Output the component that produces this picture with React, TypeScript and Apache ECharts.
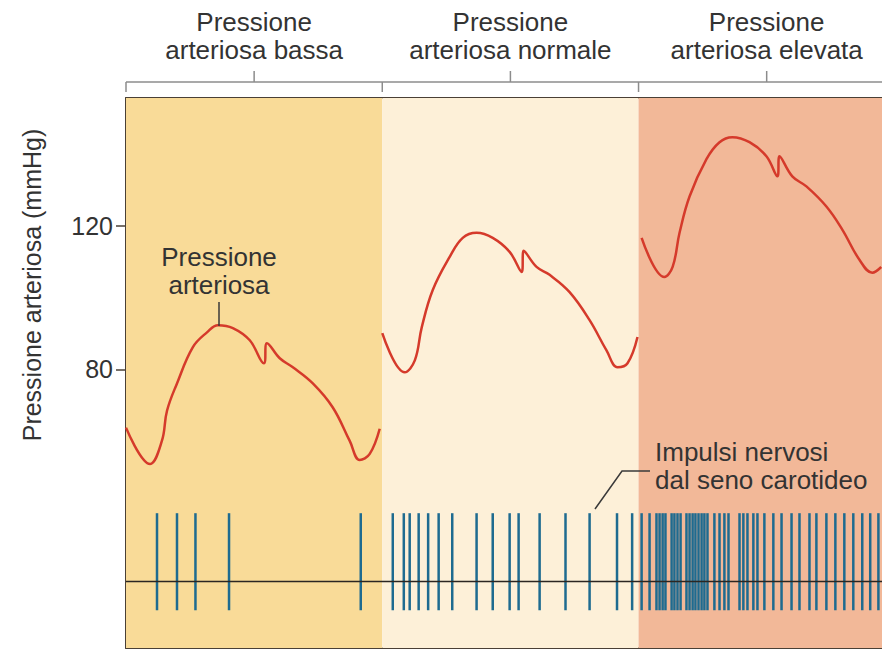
import React, { useEffect, useRef } from 'react';
import * as echarts from 'echarts';

// x: arbitrary time units (each phase = 100), y: mmHg
const PANEL_BOUNDS = [0, 100, 200, 295];
const PANEL_TITLES = [
  ['Pressione', 'arteriosa bassa'],
  ['Pressione', 'arteriosa normale'],
  ['Pressione', 'arteriosa elevata'],
];
const Y_TICKS = [80, 120];

const LOW_X = [0, 9.4, 14.0, 16.0, 19.9, 26.1, 31.6, 35.9, 41.7, 48.3, 53.8, 55.0, 60.0, 65.1, 72.9, 80.7, 87.3, 91.2, 95.1, 99.0];
const LOW_Y = [63.8, 53.7, 60.1, 68.5, 76.1, 86.2, 90.3, 92.3, 91.5, 88.1, 81.7, 87.3, 83.1, 80.6, 76.1, 69.4, 60.1, 54.8, 56.5, 63.5];

const NORMAL_X = [100, 108.8, 112.7, 115.4, 119.7, 126.3, 131.4, 136.8, 143.1, 149.7, 154.4, 155.2, 160.2, 165.3, 173.1, 180.9, 187.5, 191.8, 195.7, 199.6];
const NORMAL_Y = [90.1, 79.2, 82.5, 91.7, 102.1, 111.3, 116.6, 118.0, 116.6, 112.7, 107.1, 113.0, 108.5, 106.3, 101.5, 93.7, 85.3, 80.6, 81.7, 89.0];

const HIGH_X = [201.2, 210.1, 213.3, 216.0, 219.9, 226.5, 231.6, 236.6, 243.3, 249.9, 254.2, 255.0, 260.0, 265.5, 273.3, 279.5, 286.2, 291.2, 294.7];
const HIGH_Y = [116.6, 105.7, 108.5, 118.0, 128.1, 138.5, 143.2, 144.6, 143.2, 139.3, 133.7, 139.3, 133.7, 130.9, 125.3, 118.9, 110.5, 106.9, 108.5];

const SPIKES_LOW = [12.1, 19.9, 27.1, 40.2, 91.6];
const SPIKES_NORMAL = [104.1, 108.4, 110.7, 114.2, 117.9, 122.0, 127.3, 136.8, 143.1, 149.7, 153.2, 161.4, 171.5, 180.9, 191.6, 197.5];
const SPIKES_HIGH = [201.2, 204.3, 207.0, 208.2, 209.4, 210.5, 212.9, 214.0, 215.2, 216.4, 218.7, 219.9, 221.1, 222.2, 223.4, 224.6, 225.7, 226.9, 229.6, 231.6, 233.5, 235.1, 239.4, 240.9, 242.5, 244.8, 246.4, 249.1, 252.6, 255.8, 259.7, 262.8, 266.7, 269.4, 273.3, 276.8, 280.3, 283.8, 287.3, 290.4, 293.6];
const SPIKE_TOP = 40;
const SPIKE_BOTTOM = 13;
const BASELINE = 21;

const PANEL_COLORS = ['#f9db98', '#fdf0d8', '#f2b898'];
const FONT = '"Liberation Sans", Arial, Helvetica, sans-serif';
const TEXT = '#333333';
const CURVE = '#d53a2b';
const SPIKE = '#1e6b90';

const zip = (xs: number[], ys: number[]) => xs.map((x, i) => [x, ys[i]]);

export default function App() {
  const ref = useRef<HTMLDivElement>(null);
  useEffect(() => {
    if (!ref.current) return;
    const chart = echarts.init(ref.current, null, { renderer: 'svg' });
    const curveSeries = (data: number[][]) => ({
      type: 'line',
      data,
      smooth: 0.4,
      symbol: 'none',
      lineStyle: { color: CURVE, width: 2.5 },
      z: 5,
    });
    const spikes = [...SPIKES_LOW, ...SPIKES_NORMAL, ...SPIKES_HIGH].map((x) => [x]);
    chart.setOption({
      animation: false,
      grid: { left: 126, right: 0, top: 98, bottom: 2 },
      xAxis: [
        {
          type: 'value', min: 0, max: 295, position: 'bottom',
          axisLine: { show: true, onZero: false, lineStyle: { color: '#4a4036', width: 2 } },
          axisTick: { show: false }, axisLabel: { show: false }, splitLine: { show: false },
        },
        {
          type: 'value', min: 0, max: 295, position: 'top',
          axisLine: { show: true, onZero: false, lineStyle: { color: '#4a4036', width: 2 } },
          axisTick: { show: false }, axisLabel: { show: false }, splitLine: { show: false },
        },
      ],
      yAxis: {
        type: 'value', min: 2.5, max: 155.5,
        axisLine: { show: true, onZero: false, lineStyle: { color: '#4a4036', width: 2 } },
        axisTick: { show: true, length: 10, customValues: Y_TICKS, lineStyle: { color: '#4a4036', width: 1.5 } },
        axisLabel: { show: true, customValues: Y_TICKS, margin: 13, fontSize: 25, color: TEXT, fontFamily: FONT },
        splitLine: { show: false },
      },
      series: [
        {
          type: 'line', data: [], silent: true, z: 0,
          markArea: {
            silent: true,
            data: PANEL_BOUNDS.slice(0, 3).map((b, i) => [
              { xAxis: b, itemStyle: { color: PANEL_COLORS[i] } },
              { xAxis: PANEL_BOUNDS[i + 1] },
            ]),
          },
        },
        curveSeries(zip(LOW_X, LOW_Y)),
        curveSeries(zip(NORMAL_X, NORMAL_Y)),
        curveSeries(zip(HIGH_X, HIGH_Y)),
        {
          type: 'custom',
          data: spikes,
          z: 3,
          renderItem: (params: any, api: any) => {
            const x = api.value(0);
            const p1 = api.coord([x, SPIKE_TOP]);
            const p2 = api.coord([x, SPIKE_BOTTOM]);
            return {
              type: 'line',
              shape: { x1: p1[0], y1: p1[1], x2: p2[0], y2: p2[1] },
              style: { stroke: SPIKE, lineWidth: 2.5 },
            };
          },
        },
        {
          type: 'line',
          data: [[0, BASELINE], [295, BASELINE]],
          symbol: 'none',
          lineStyle: { color: '#2b2622', width: 1.5 },
          z: 4,
        },
      ],
    });

    const px = (x: number) => chart.convertToPixel({ gridIndex: 0 }, [x, 100])[0];
    const BR_Y = 82;
    const g: any[] = [];
    const brStyle = { stroke: '#8c8c8c', lineWidth: 1.5 };
    const txt = (text: string, x: number, y: number, size: number, align = 'center', rotation = 0) => ({
      type: 'text', x, y, rotation, z: 100,
      style: { text, fill: TEXT, font: `${size}px ${FONT}`, textAlign: align, textVerticalAlign: 'middle' },
    });
    g.push({ type: 'line', z: 100, shape: { x1: px(0), y1: BR_Y, x2: 882, y2: BR_Y }, style: brStyle });
    [0, 100, 200].forEach((b) => g.push({ type: 'line', z: 100, shape: { x1: px(b), y1: BR_Y, x2: px(b), y2: BR_Y + 10 }, style: brStyle }));
    PANEL_TITLES.forEach((t, i) => {
      const cx = px(PANEL_BOUNDS[i] + 50);
      g.push({ type: 'line', z: 100, shape: { x1: cx, y1: BR_Y, x2: cx, y2: BR_Y - 11 }, style: brStyle });
      g.push(txt(t[0], cx, 22, 26));
      g.push(txt(t[1], cx, 50, 26));
    });
    // y-axis title
    g.push(txt('Pressione arteriosa (mmHg)', 32, 285, 25, 'center', Math.PI / 2));
    // curve annotation
    g.push(txt('Pressione', 219, 257, 26));
    g.push(txt('arteriosa', 219, 285, 26));
    g.push({ type: 'line', z: 100, shape: { x1: 219, y1: 302, x2: 219, y2: 326 }, style: { stroke: '#3a3a3a', lineWidth: 1.5 } });
    // spikes annotation
    g.push(txt('Impulsi nervosi', 655, 452, 26, 'left'));
    g.push(txt('dal seno carotideo', 655, 480, 26, 'left'));
    g.push({ type: 'polyline', z: 100, shape: { points: [[595, 509], [622, 471], [650, 471]] }, style: { stroke: '#3a3a3a', lineWidth: 1.5, fill: 'none' } });
    chart.setOption({ graphic: g });

    return () => chart.dispose();
  }, []);
  return <div ref={ref} style={{ position: 'fixed', left: 0, top: 0, width: 882, height: 650, background: '#ffffff' }} />;
}
